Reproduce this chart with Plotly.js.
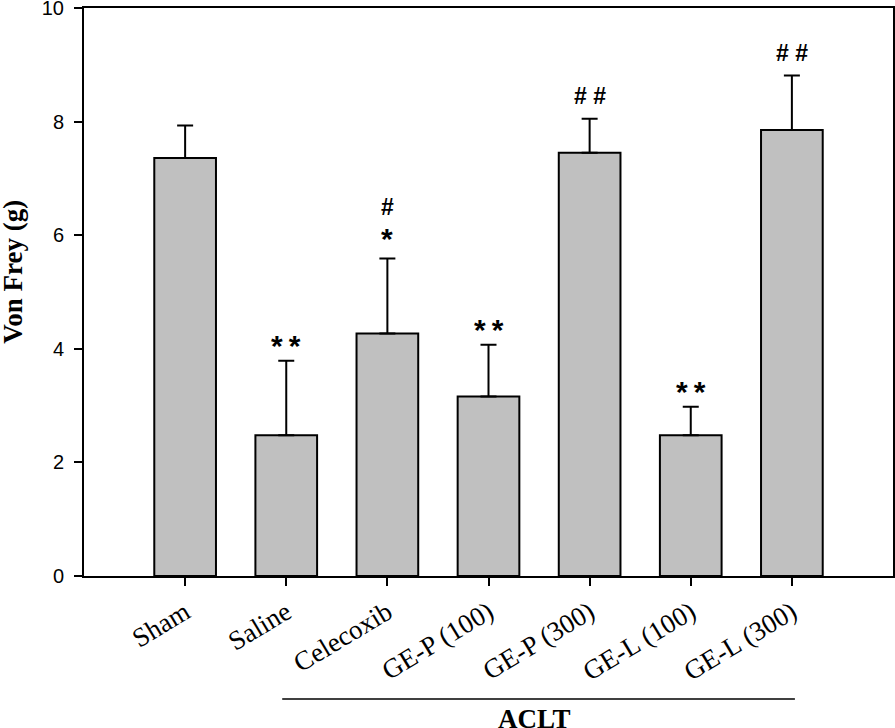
<!DOCTYPE html>
<html>
<head>
<meta charset="utf-8">
<script src="https://cdn.plot.ly/plotly-3.0.1.min.js"></script>
<style>html,body{margin:0;padding:0;background:#fff;}#chart{width:895px;height:728px;}</style>
</head>
<body>
<div id="chart"></div>
<script>
const groups = ["Sham", "Saline", "Celecoxib", "GE-P (100)", "GE-P (300)", "GE-L (100)", "GE-L (300)"];
const positions = [1, 2, 3, 4, 5, 6, 7];
const meanValues = [7.36, 2.48, 4.27, 3.16, 7.45, 2.48, 7.85];
const semValues = [0.57, 1.31, 1.32, 0.91, 0.60, 0.50, 0.96];
const starMarks = ["", "*\u2009*", "*", "*\u2009*", "", "*\u2009*", ""];
const hashMarks = ["", "", "#", "", "# #", "", "# #"];
const yTicks = [0, 2, 4, 6, 8, 10];

const trace = {
  type: "bar",
  x: positions,
  y: meanValues,
  width: 0.61,
  marker: {color: "#c0c0c0", line: {color: "#000", width: 2}},
  error_y: {type: "data", array: semValues, symmetric: false, arrayminus: positions.map(() => 0),
            color: "#000", thickness: 2, width: 8},
  hoverinfo: "skip"
};

const annotations = [];
positions.forEach((p, i) => {
  const top = meanValues[i] + semValues[i];
  if (starMarks[i]) {
    const single = starMarks[i].length === 1;
    annotations.push({x: p, y: top, xref: "x", yref: "y", text: starMarks[i], showarrow: false,
      yanchor: "middle", yshift: single ? 20 : 15, font: {family: "Liberation Sans, Arial", size: 30, color: "#000", weight: "bold"}});
  }
  if (hashMarks[i]) {
    const shift = starMarks[i] ? 51 : 23;
    annotations.push({x: p, y: top, xref: "x", yref: "y", text: hashMarks[i], showarrow: false,
      yanchor: "middle", yshift: shift, font: {family: "Liberation Sans, Arial", size: 23, color: "#000", weight: "bold"}});
  }
});
annotations.push({x: 4.45, y: -0.222, xref: "x", yref: "paper", text: "ACLT", showarrow: false,
  yanchor: "top", font: {family: "Liberation Serif, Times New Roman", size: 27, color: "#000", weight: "bold"}});
annotations.push({x: -0.087, y: 0.5 + 0.035, xref: "paper", yref: "paper", text: "Von Frey (g)", showarrow: false,
  textangle: -90, xanchor: "center", yanchor: "middle",
  font: {family: "Liberation Serif, Times New Roman", size: 27, color: "#000", weight: "bold"}});

const layout = {
  width: 895, height: 728,
  margin: {l: 84, r: 2, t: 8, b: 152},
  paper_bgcolor: "#fff", plot_bgcolor: "#fff",
  showlegend: false,
  xaxis: {
    range: [0, 8], tickmode: "array", tickvals: positions, ticktext: groups,
    tickangle: -31, ticks: "outside", ticklen: 8, tickwidth: 2, tickcolor: "#000",
    showline: true, linecolor: "#000", linewidth: 2, mirror: true, showgrid: false, zeroline: false,
    tickfont: {family: "Liberation Serif, Times New Roman", size: 27, color: "#000"}
  },
  yaxis: {
    range: [0, 10], tickmode: "array", tickvals: yTicks, ticktext: yTicks.map(String),
    ticks: "outside", ticklen: 8, tickwidth: 2, tickcolor: "#000", ticklabelstandoff: 6,
    ticklabeloverflow: "allow",
    showline: true, linecolor: "#000", linewidth: 2, mirror: true, showgrid: false, zeroline: false,
    tickfont: {family: "Liberation Sans, Arial", size: 20, color: "#000"}
  },
  shapes: [{type: "line", xref: "x", yref: "paper", x0: 1.96, x1: 7.03, y0: -0.2165, y1: -0.2165,
    line: {color: "#000", width: 1.5}}],
  annotations: annotations
};

Plotly.newPlot("chart", [trace], layout, {displayModeBar: false, staticPlot: true});
</script>
</body>
</html>
